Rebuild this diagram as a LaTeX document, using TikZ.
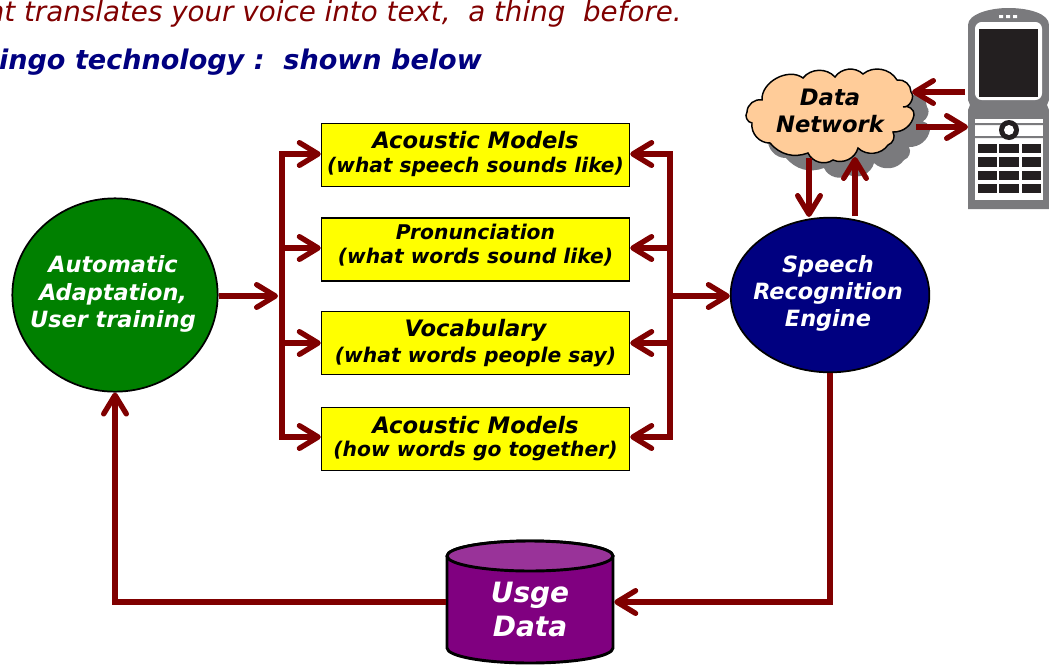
\documentclass[tikz,border=0pt]{standalone}
\usepackage{fontspec}
\setmainfont{DejaVu Sans}
\usetikzlibrary{arrows.meta,shapes.geometric,calc}
\definecolor{arrowred}{RGB}{128,0,0}
\definecolor{phonegrey}{RGB}{122,122,125}
\definecolor{phoneblack}{RGB}{35,31,32}
\definecolor{boxyellow}{RGB}{255,255,0}
\newcommand{\fs}[1]{\fontsize{#1}{#1}\selectfont}
\tikzset{
  x=0.75pt,y=-0.75pt,
  flow/.style={draw=arrowred,line width=4pt,line cap=butt,-{Straight Barb[length=14pt,width=17pt,round]}},
  trunk/.style={draw=arrowred,line width=4pt,line cap=rect},
  infobox/.style={draw=black,line width=1.1pt,fill=boxyellow,minimum width=231pt,minimum height=47.5pt,inner sep=0pt},
  boxtext/.style={inner sep=0pt,align=center,font=\bfseries\itshape},
  orb/.style={ellipse,draw=black,line width=1.3pt,inner sep=0pt},
  orbtext/.style={inner sep=0pt,align=center,text=white,font=\bfseries\itshape\fs{16.8}},
  cloudpath/.style={line width=1.1pt},
  key/.style={fill=phoneblack}
}
\def\cloudshape{(762,100) to[bend left=65] (803,78) to[bend left=50] (835,77) to[bend left=50] (863,74) to[bend left=50] (897,80) to[bend left=50] (911,92) to[bend left=70] (903,107) to[bend left=65] (914,115) to[bend left=40] (893,132) to[bend left=50] (888,145) to[bend left=50] (858,148) to[bend left=50] (833,160) to[bend left=50] (808,153) to[bend left=35] (770,143) to[bend left=50] (752,123) to[bend left=60] (747,112) to[bend left=50] cycle}
\begin{document}
\begin{tikzpicture}
\useasboundingbox (0,0) rectangle (1049,664);
\clip (0,0) rectangle (1049,664);
% heading
\node[anchor=base east,inner sep=0pt,text=arrowred,font=\itshape\fs{20.8}] (line1) at (682,21) {nt translates your voice into text,\ \ a thing\ \ before.};
\node[anchor=base east,inner sep=0pt,text={rgb,255:red,0;green,0;blue,128},font=\bfseries\itshape\fs{20.3}] (line2) at (482,69) {ingo technology :\ \ shown below};
% boxes
\node[infobox] (b1) at (475.5,155) {};
\node[infobox] (b2) at (475.5,249.5) {};
\node[infobox] (b3) at (475.5,343) {};
\node[infobox] (b4) at (475.5,439) {};
\node[boxtext] (t1) at (475.5,154) {\fs{17}Acoustic Models\\[5.5pt]\fs{15.1}(what speech sounds like)};
\node[boxtext] (t2) at (475.5,245) {\fs{15.2}Pronunciation\\[6pt]\fs{15.2}(what words sound like)};
\node[boxtext] (t3) at (475.5,343) {\fs{17}Vocabulary\\[3.5pt]\fs{15.2}(what words people say)};
\node[boxtext] (t4) at (475.5,438.5) {\fs{17}Acoustic Models\\[5.5pt]\fs{15.2}(how words go together)};
% ellipses
\node[orb,fill={rgb,255:red,0;green,128;blue,0},minimum width=154pt,minimum height=145pt] (adapt) at (115,295) {};
\node[orbtext] (adaptt) at (113,294) {Automatic\\[4pt]Adaptation,\\[4pt]User training};
\node[orb,fill={rgb,255:red,0;green,0;blue,128},minimum width=149pt,minimum height=116pt] (engine) at (830,295) {};
\node[orbtext] (enginet) at (828,293) {Speech\\[3.5pt]Recognition\\[3.5pt]Engine};
% cylinder
\path[fill={rgb,255:red,128;green,0;blue,128},draw=black,line width=2.2pt] (447,556) -- (447,648) arc[start angle=180,end angle=0,x radius=83,y radius=15] -- (613,556) arc[start angle=0,end angle=-180,x radius=83,y radius=15];
\path[fill={rgb,255:red,153;green,51;blue,153},draw=black,line width=2.2pt] (530,556) ellipse[x radius=83,y radius=15];
\node[inner sep=0pt,minimum width=126pt,minimum height=92pt] (usge) at (530,602) {};
\node[inner sep=0pt,align=center,text=white,font=\bfseries\itshape\fs{21}] (usget) at (530,609) {Usge\\[4.5pt]Data};
% cloud
\fill[phonegrey,shift={(16,15)}] \cloudshape;
\filldraw[fill={rgb,255:red,255;green,204;blue,153},draw=black,cloudpath] \cloudshape;
\node[inner sep=0pt,align=center,font=\bfseries\itshape\fs{17}] (cloud) at (830,111) {Data\\[3pt]Network};
% phone
\node[inner sep=0pt,minimum width=60.75pt,minimum height=150pt] (phone) at (1008.5,108.5) {};
\fill[phonegrey] (968,25) .. controls (968,14) and (990,8) .. (1008,8) .. controls (1030,8) and (1049,14) .. (1049,25) -- (1049,100) -- (1047,105) -- (1049,110) -- (1049,209) -- (968,209) -- (968,110) -- (970,105) -- (968,100) -- cycle;
\fill[white,rounded corners=5pt] (975,22) rectangle (1042,100);
\fill[phoneblack] (979,29) rectangle (1038,97);
\fill[white] (975,119) rectangle (1043,200);
\fill[white] (999,15) rectangle (1003,18) (1006,15) rectangle (1010,18) (1013,15) rectangle (1017,18);
\fill[phonegrey] (975,123) rectangle (1043,125) (975,136) rectangle (1043,138);
\fill[phoneblack] (1009,130) circle[radius=10];
\fill[white] (1009,130) circle[radius=5];
\foreach \ya/\yb in {144/153,157/167,171/180,184/193}{
  \foreach \xa/\xb in {978/997,999/1019,1022/1041}{
    \fill[key] (\xa,\ya) rectangle (\xb,\yb);
  }
}
% connector points
\coordinate (busLt) at (282,154);
\coordinate (busLb) at (282,437);
\coordinate (busLm) at (278,296);
\coordinate (busRt) at (670,154);
\coordinate (busRb) at (670,437);
\coordinate (busRm) at (670,296);
\draw[trunk] (busLt) -- (busLb);
\draw[trunk] (busRt) -- (busRb);
\draw[flow] (adapt.east |- busLm) -- (busLm);
\foreach \b/\o in {b1/-1,b2/-1.5,b3/0,b4/-2}{
  \draw[flow] ($(busLt |- \b.west)+(0,\o)$) -- ($(\b.west)+(0,\o)$);
  \draw[flow] ($(busRt |- \b.east)+(0,\o)$) -- ($(\b.east)+(0,\o)$);
}
\draw[flow] (busRm) -- (engine.west |- busRm);
\draw[flow] (usge.west) -| (adapt.south);
\draw[flow] (engine.south) |- (usge.east);
% cloud and phone links
\coordinate (cloudOutS) at (809,158);
\coordinate (engineInN) at (809,217);
\coordinate (engineOutN) at (855,216);
\coordinate (cloudInS) at (855,157);
\coordinate (phoneOut) at (965,92);
\coordinate (cloudInE) at (912,92);
\coordinate (cloudOutE) at (916,127);
\coordinate (phoneIn) at (968,127);
\draw[flow] (cloudOutS) -- (engineInN);
\draw[flow] (engineOutN) -- (cloudInS);
\draw[flow] (phoneOut) -- (cloudInE);
\draw[flow] (cloudOutE) -- (phoneIn);
\end{tikzpicture}
\end{document}
